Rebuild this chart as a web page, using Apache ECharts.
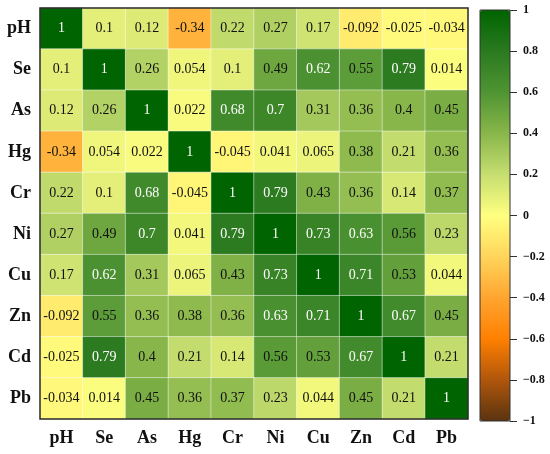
<!DOCTYPE html>
<html>
<head>
<meta charset="utf-8">
<script src="https://cdn.jsdelivr.net/npm/echarts@6/dist/echarts.min.js"></script>
<style>html,body{margin:0;padding:0;background:#fff;}#c{width:550px;height:454px;}</style>
</head>
<body>
<div id="c"></div>
<script>
var categories = ['pH','Se','As','Hg','Cr','Ni','Cu','Zn','Cd','Pb'];
var rowPH = [1, 0.1, 0.12, -0.34, 0.22, 0.27, 0.17, -0.092, -0.025, -0.034];
var rowSe = [0.1, 1, 0.26, 0.054, 0.1, 0.49, 0.62, 0.55, 0.79, 0.014];
var rowAs = [0.12, 0.26, 1, 0.022, 0.68, 0.7, 0.31, 0.36, 0.4, 0.45];
var rowHg = [-0.34, 0.054, 0.022, 1, -0.045, 0.041, 0.065, 0.38, 0.21, 0.36];
var rowCr = [0.22, 0.1, 0.68, -0.045, 1, 0.79, 0.43, 0.36, 0.14, 0.37];
var rowNi = [0.27, 0.49, 0.7, 0.041, 0.79, 1, 0.73, 0.63, 0.56, 0.23];
var rowCu = [0.17, 0.62, 0.31, 0.065, 0.43, 0.73, 1, 0.71, 0.53, 0.044];
var rowZn = [-0.092, 0.55, 0.36, 0.38, 0.36, 0.63, 0.71, 1, 0.67, 0.45];
var rowCd = [-0.025, 0.79, 0.4, 0.21, 0.14, 0.56, 0.53, 0.67, 1, 0.21];
var rowPb = [-0.034, 0.014, 0.45, 0.36, 0.37, 0.23, 0.044, 0.45, 0.21, 1];
var colorbarTicks = [-1, -0.8, -0.6, -0.4, -0.2, 0, 0.2, 0.4, 0.6, 0.8, 1];

var rows = [rowPH, rowSe, rowAs, rowHg, rowCr, rowNi, rowCu, rowZn, rowCd, rowPb];
var data = [];
rows.forEach(function (r, i) {
  r.forEach(function (v, j) {
    data.push({
      value: [j, i, v],
      label: { color: v >= 0.6 ? '#ffffff' : '#111111' }
    });
  });
});

var serif = '"Liberation Serif", "Times New Roman", serif';
var chart = echarts.init(document.getElementById('c'), null, { renderer: 'canvas' });
chart.setOption({
  animation: false,
  backgroundColor: '#ffffff',
  grid: [
    { left: 40, top: 8, width: 428, height: 411, show: true, z: 10,
      borderColor: '#2a2a2a', borderWidth: 1.5, backgroundColor: 'transparent' },
    { left: 480, top: 10, width: 30, height: 411, show: true, z: 10,
      borderColor: '#333333', borderWidth: 1, backgroundColor: 'transparent' },
    { left: 510, top: 10, width: 7, height: 411, show: false }
  ],
  xAxis: [
    { type: 'category', data: categories, gridIndex: 0, position: 'bottom',
      axisLine: { show: false }, axisTick: { show: false }, splitLine: { show: false },
      axisLabel: { margin: 10, fontFamily: serif, fontWeight: 'bold', fontSize: 18, color: '#111' } },
    { type: 'value', gridIndex: 1, show: false, min: 0, max: 1 },
    { type: 'value', gridIndex: 2, min: 0, max: 1,
      axisLine: { show: false }, axisTick: { show: false }, axisLabel: { show: false },
      splitLine: { show: false } }
  ],
  yAxis: [
    { type: 'category', data: categories, gridIndex: 0, inverse: true,
      axisLine: { show: false }, axisTick: { show: false }, splitLine: { show: false },
      axisLabel: { margin: 9, fontFamily: serif, fontWeight: 'bold', fontSize: 18, color: '#111' } },
    { type: 'value', gridIndex: 1, show: false, min: -1, max: 1 },
    { type: 'value', gridIndex: 2, position: 'right', min: -1, max: 1, interval: 0.2,
      axisLine: { show: false },
      axisTick: { show: false },
      splitLine: { show: true, lineStyle: { color: '#333', width: 1 } },
      axisLabel: { margin: 6, fontFamily: serif, fontWeight: 'bold', fontSize: 12, color: '#111',
        formatter: function (v) {
          var s = String(Math.round(v * 10) / 10);
          return s.replace('-', '\u2212');
        } } }
  ],
  visualMap: {
    type: 'continuous',
    seriesIndex: 0,
    min: -1, max: 1,
    calculable: false,
    realtime: false,
    orient: 'vertical',
    left: 480, top: 10,
    itemWidth: 30, itemHeight: 411,
    padding: 0,
    text: null,
    showLabel: false,
    inRange: {
      color: ['#5a3310', '#b0560c', '#ff8000', '#ffa530', '#ffd55a', '#ffff80',
              '#c6de70', '#88b64a', '#4f9433', '#2a7a1f', '#006400']
    }
  },
  series: [
    {
      type: 'heatmap',
      xAxisIndex: 0, yAxisIndex: 0,
      data: data,
      itemStyle: { borderColor: 'rgba(255,255,255,0.45)', borderWidth: 1 },
      label: {
        show: true, fontFamily: serif, fontSize: 14,
        formatter: function (p) { return String(p.value[2]); }
      },
      emphasis: { disabled: true }
    },
    {
      type: 'scatter', xAxisIndex: 2, yAxisIndex: 2,
      data: colorbarTicks.map(function (t) { return [0.5, t]; }),
      symbolSize: 0, silent: true, itemStyle: { opacity: 0 }
    }
  ]
});
</script>
</body>
</html>
